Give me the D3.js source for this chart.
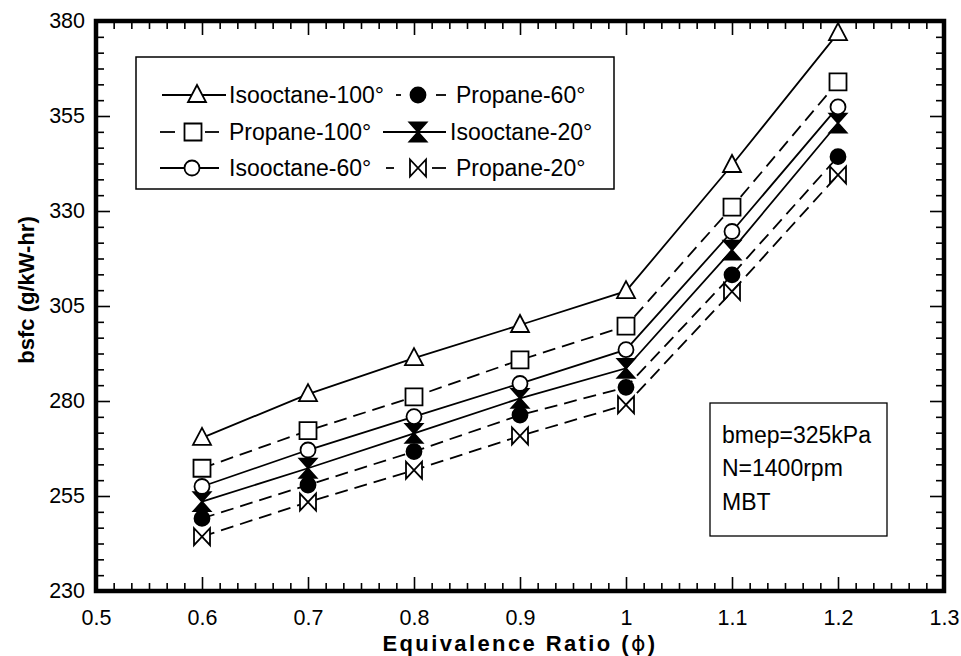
<!DOCTYPE html>
<html><head><meta charset="utf-8">
<script src="https://cdn.jsdelivr.net/npm/d3@7"></script>
<style>
body{margin:0;background:#fff}
svg text{font-family:"Liberation Sans",Arial,Helvetica,sans-serif;fill:#000}
</style>
</head><body>
<svg id="chart" width="961" height="656"></svg>
<script>
// ---- data ----
const phi = [0.6, 0.7, 0.8, 0.9, 1.0, 1.1, 1.2];
const isooctane100 = [270.3, 281.8, 291.3, 300.0, 308.9, 342.1, 376.8];
const propane100   = [262.3, 272.2, 281.1, 290.8, 299.7, 331.0, 364.0];
const isooctane60  = [257.5, 267.1, 275.9, 284.6, 293.5, 324.6, 357.4];
const isooctane20  = [253.5, 262.3, 271.5, 280.7, 288.6, 319.7, 353.1];
const propane60    = [249.1, 257.9, 266.7, 276.3, 283.6, 313.2, 344.3];
const propane20    = [244.3, 253.4, 261.8, 270.8, 279.0, 308.8, 339.5];
const seriesNames = ["Isooctane-100°", "Propane-100°", "Isooctane-60°", "Propane-60°", "Isooctane-20°", "Propane-20°"];
const xTicks = [0.5, 0.6, 0.7, 0.8, 0.9, 1.0, 1.1, 1.2, 1.3];
const xTickLabels = ["0.5", "0.6", "0.7", "0.8", "0.9", "1", "1.1", "1.2", "1.3"];
const yTicks = [230, 255, 280, 305, 330, 355, 380];
const yTickLabels = ["230", "255", "280", "305", "330", "355", "380"];
const annotation = ["bmep=325kPa", "N=1400rpm", "MBT"];
const xTitle = "Equivalence Ratio (";
const yTitle = "bsfc (g/kW-hr)";

// ---- styles ----
const seriesValues = [isooctane100, propane100, isooctane60, propane60, isooctane20, propane20];
const seriesMarker = ["triangle", "square", "circle", "dot", "hourglass", "bowtie"];
const seriesDashed = [false, true, false, true, false, true];

const svg = d3.select("#chart");
const L = 96, R = 944, T = 21, B = 591;
const x = d3.scaleLinear().domain([0.5, 1.3]).range([L, R]);
const y = d3.scaleLinear().domain([230, 380]).range([B, T]);

function markerPath(type) {
  switch (type) {
    case "triangle": return "M0,-10L9,7L-9,7Z";
    case "square": return "M-8.5,-8.5H8.5V8.5H-8.5Z";
    case "hourglass": return "M-8.5,-9.5H8.5L0,0L8.5,9.5H-8.5L0,0Z";
    case "bowtie": return "M-8,-8.5V8.5L8,-8.5V8.5Z";
  }
  return null;
}
function drawMarker(g, type, cx, cy) {
  if (type === "circle" || type === "dot") {
    g.append("circle").attr("cx", cx).attr("cy", cy).attr("r", 7.5)
      .attr("fill", type === "dot" ? "#000" : "#fff").attr("stroke", "#000").attr("stroke-width", 1.8);
  } else {
    g.append("path").attr("d", markerPath(type))
      .attr("transform", `translate(${cx},${cy})`)
      .attr("fill", type === "hourglass" ? "#000" : "#fff")
      .attr("stroke", "#000").attr("stroke-width", 1.8).attr("stroke-linejoin", "miter");
  }
}

// ---- axes ticks (inward) ----
function minorTicks(majors) {
  const out = [];
  for (let i = 0; i < majors.length - 1; i++) {
    const a = majors[i], b = majors[i + 1];
    for (let k = 1; k < 6; k++) out.push(a + (b - a) * k / 6);
  }
  return out;
}
const xMinor = minorTicks(xTicks), yMinor = minorTicks(yTicks);
const fmtX = d => xTickLabels[xTicks.findIndex(v => Math.abs(v - d) < 1e-9)];
const fmtY = d => yTickLabels[yTicks.indexOf(d)];

function styleAxis(g) {
  g.select(".domain").remove();
  g.selectAll(".tick line").attr("stroke", "#000").attr("stroke-width", 1.6);
  g.selectAll(".tick text").attr("font-size", 21.5).attr("fill", "#000")
    .style("font-family", '"Liberation Sans",Arial,sans-serif');
}
// bottom
svg.append("g").attr("transform", `translate(0,${B})`)
  .call(d3.axisBottom(x).tickValues(xTicks).tickSizeInner(-14).tickSizeOuter(0).tickPadding(19).tickFormat(fmtX))
  .call(styleAxis);
svg.append("g").attr("transform", `translate(0,${B})`)
  .call(d3.axisBottom(x).tickValues(xMinor).tickSizeInner(-8).tickSizeOuter(0).tickFormat(""))
  .call(styleAxis);
// top
svg.append("g").attr("transform", `translate(0,${T})`)
  .call(d3.axisTop(x).tickValues(xTicks).tickSizeInner(-14).tickSizeOuter(0).tickFormat(""))
  .call(styleAxis);
svg.append("g").attr("transform", `translate(0,${T})`)
  .call(d3.axisTop(x).tickValues(xMinor).tickSizeInner(-8).tickSizeOuter(0).tickFormat(""))
  .call(styleAxis);
// left
svg.append("g").attr("transform", `translate(${L},0)`)
  .call(d3.axisLeft(y).tickValues(yTicks).tickSizeInner(-14).tickSizeOuter(0).tickPadding(11).tickFormat(fmtY))
  .call(styleAxis);
svg.append("g").attr("transform", `translate(${L},0)`)
  .call(d3.axisLeft(y).tickValues(yMinor).tickSizeInner(-8).tickSizeOuter(0).tickFormat(""))
  .call(styleAxis);
// right
svg.append("g").attr("transform", `translate(${R},0)`)
  .call(d3.axisRight(y).tickValues(yTicks).tickSizeInner(-14).tickSizeOuter(0).tickFormat(""))
  .call(styleAxis);
svg.append("g").attr("transform", `translate(${R},0)`)
  .call(d3.axisRight(y).tickValues(yMinor).tickSizeInner(-8).tickSizeOuter(0).tickFormat(""))
  .call(styleAxis);

// frame
svg.append("rect").attr("x", L).attr("y", T).attr("width", R - L).attr("height", B - T)
  .attr("fill", "none").attr("stroke", "#000").attr("stroke-width", 4.5);

// ---- series ----
const line = d3.line().x(d => x(d[0])).y(d => y(d[1]));
const linesG = svg.append("g");
const marksG = svg.append("g");
seriesValues.forEach((vals, i) => {
  const pts = phi.map((p, j) => [p, vals[j]]);
  linesG.append("path").attr("d", line(pts)).attr("fill", "none")
    .attr("stroke", "#000").attr("stroke-width", 1.8)
    .attr("stroke-dasharray", seriesDashed[i] ? "13,7" : null);
});
[5, 3, 4, 2, 1, 0].forEach(i => {
  phi.forEach((p, j) => drawMarker(marksG, seriesMarker[i], x(p), y(seriesValues[i][j])));
});

// ---- legend ----
const lg = svg.append("g");
lg.append("rect").attr("x", 136).attr("y", 57).attr("width", 478).attr("height", 132)
  .attr("fill", "#fff").attr("stroke", "#000").attr("stroke-width", 1.5);
const rowsY = [95, 132, 168];
const legendLayout = [
  {i: 0, row: 0, segs: [[162, 226]], mx: 197, tx: 229},
  {i: 1, row: 1, segs: [[160, 175], [205, 219]], mx: 193, tx: 229},
  {i: 2, row: 2, segs: [[160, 219]], mx: 192, tx: 229},
  {i: 3, row: 0, segs: [[396, 401], [436, 446]], mx: 418, tx: 456},
  {i: 4, row: 1, segs: [[383, 446]], mx: 418, tx: 450},
  {i: 5, row: 2, segs: [[386, 394], [432, 446]], mx: 418, tx: 456}
];
legendLayout.forEach(o => {
  const yy = rowsY[o.row];
  o.segs.forEach(s => lg.append("line").attr("x1", s[0]).attr("x2", s[1]).attr("y1", yy).attr("y2", yy)
    .attr("stroke", "#000").attr("stroke-width", 1.8));
  drawMarker(lg, seriesMarker[o.i], o.mx, yy);
  lg.append("text").attr("x", o.tx).attr("y", yy + 8).attr("font-size", 23).text(seriesNames[o.i]);
});

// ---- annotation box ----
const ab = svg.append("g");
ab.append("rect").attr("x", 710).attr("y", 403).attr("width", 177).attr("height", 133)
  .attr("fill", "#fff").attr("stroke", "#000").attr("stroke-width", 1.3);
const annY = [443, 476, 510];
annotation.forEach((t, i) => ab.append("text").attr("x", 722).attr("y", annY[i]).attr("font-size", 23).text(t));

// ---- titles ----
const xt = svg.append("text").attr("x", 520).attr("y", 651).attr("text-anchor", "middle")
  .attr("font-size", 22).attr("font-weight", "bold").attr("letter-spacing", 2.4);
xt.append("tspan").text(xTitle);
xt.append("tspan").style("font-family", '"DejaVu Sans",sans-serif').attr("font-weight", "normal").text("ϕ");
xt.append("tspan").text(")");
svg.append("text").attr("transform", "translate(34,290) rotate(-90)").attr("text-anchor", "middle")
  .attr("font-size", 22).attr("font-weight", "bold").text(yTitle);
</script>
</body></html>
